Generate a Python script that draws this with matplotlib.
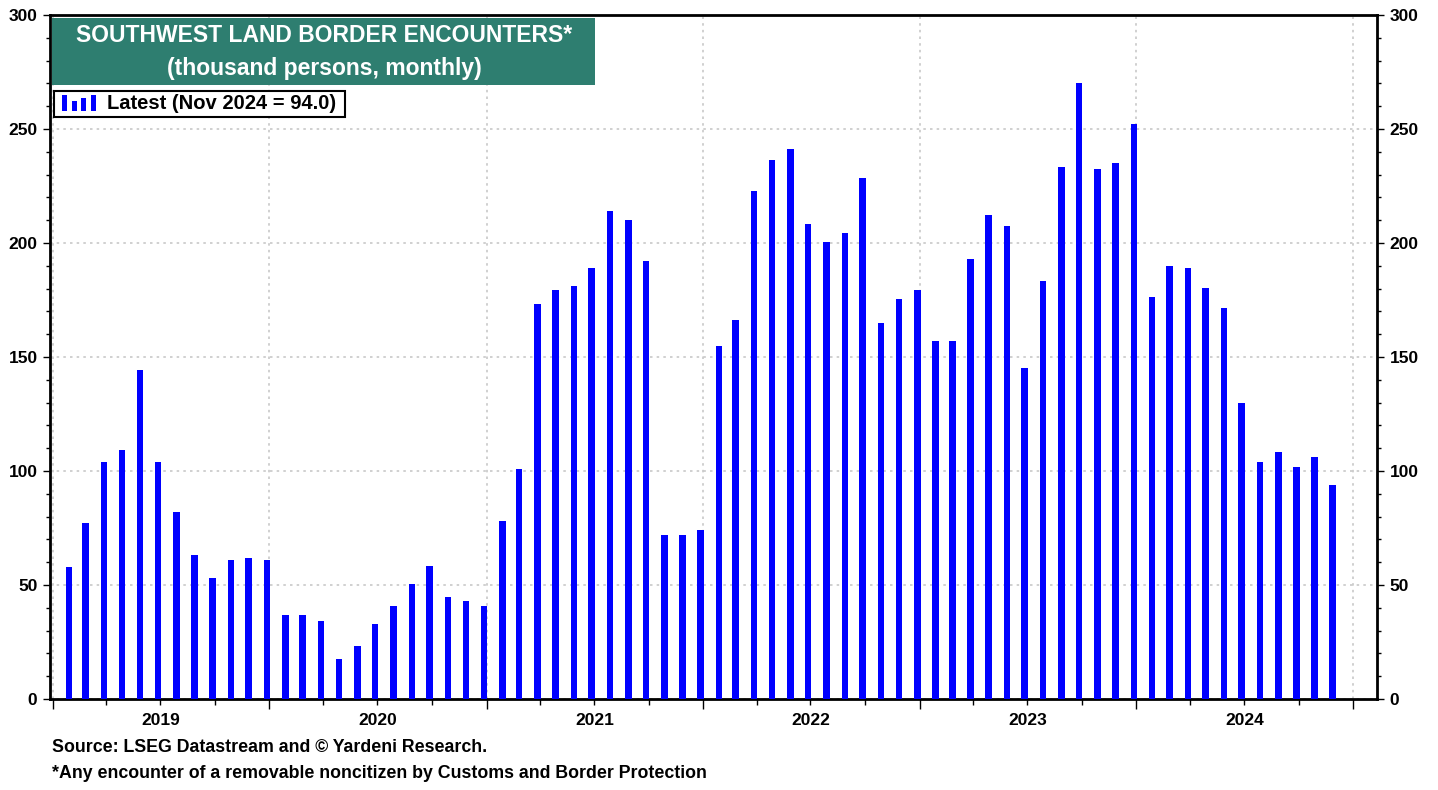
import numpy as np
import pandas as pd
import matplotlib
matplotlib.use("Agg")
import matplotlib.pyplot as plt
import matplotlib.dates as mdates
from matplotlib.ticker import MultipleLocator
from matplotlib.patches import Rectangle
import matplotlib.transforms as mtransforms

# monthly values (thousand persons)
vals_2019 = [58.0, 77.3, 103.8, 109.2, 144.3, 103.8, 82.2, 63.2, 53.2, 61.1, 62.0, 61.1]
vals_2020 = [37.0, 37.0, 34.1, 17.4, 23.2, 33.0, 40.9, 50.3, 58.2, 44.9, 42.8, 40.9]
vals_2021 = [78.1, 101.0, 173.2, 179.2, 181.1, 189.0, 214.2, 210.2, 192.1, 71.9, 72.1, 74.0]
vals_2022 = [155.0, 166.4, 222.9, 236.3, 241.2, 208.2, 200.3, 204.2, 228.4, 165.0, 175.3, 179.2]
vals_2023 = [157.0, 157.0, 193.0, 212.1, 207.3, 145.3, 183.2, 233.3, 270.3, 232.3, 235.2, 252.0]
vals_2024 = [176.3, 190.0, 189.0, 180.1, 171.4, 130.0, 103.8, 108.3, 101.9, 106.3, 94.0]

values = vals_2019 + vals_2020 + vals_2021 + vals_2022 + vals_2023 + vals_2024
dates = pd.date_range("2019-01-31", periods=len(values), freq="ME") - pd.Timedelta(days=3)
years = [2019, 2020, 2021, 2022, 2023, 2024]

title_lines = ["SOUTHWEST LAND BORDER ENCOUNTERS*", "(thousand persons, monthly)"]
legend_label = "Latest (Nov 2024 = 94.0)"
notes = ["Source: LSEG Datastream and \u00a9 Yardeni Research.",
         "*Any encounter of a removable noncitizen by Customs and Border Protection"]

plt.rcParams['font.family'] = ['Liberation Sans', 'DejaVu Sans']
plt.rcParams['font.weight'] = 'bold'

W, H = 1438, 790
fig = plt.figure(figsize=(W / 100, H / 100), dpi=100)
ax = fig.add_axes([50 / W, 1 - 699 / H, (1377 - 50) / W, (699 - 15) / H])

ax.bar(dates, values, width=11, color="#0000ff", zorder=3)

ax.set_ylim(0, 300)
ax.set_xlim(pd.Timestamp("2018-12-27"), pd.Timestamp("2025-02-10"))

ax.yaxis.set_major_locator(MultipleLocator(50))
ax.yaxis.set_minor_locator(MultipleLocator(10))
ax.xaxis.set_major_locator(mdates.YearLocator())
ax.xaxis.set_minor_locator(mdates.MonthLocator(bymonth=[4, 7, 10]))
ax.xaxis.set_major_formatter(plt.NullFormatter())

ax.tick_params(axis="y", which="both", left=True, right=True, labelleft=True, labelright=True,
               direction="out", labelsize=12.5, width=1)
ax.tick_params(axis="y", which="major", length=5, pad=4)
ax.tick_params(axis="y", which="minor", length=3)
ax.tick_params(axis="x", which="major", length=7, width=1)
ax.tick_params(axis="x", which="minor", length=4, width=1)
for lbl in ax.get_yticklabels():
    lbl.set_fontweight("bold")

ax.grid(True, which="major", axis="both", color="#c8c8c8", linestyle=(0, (1.5, 2.5)), linewidth=1.2, zorder=0)
for s in ax.spines.values():
    s.set_linewidth(2)

trans = mtransforms.blended_transform_factory(ax.transData, ax.transAxes)
for y in years:
    ax.text(pd.Timestamp(f"{y}-07-02"), -0.02, str(y), transform=trans, ha="center", va="top",
            fontsize=12.5, fontweight="bold")

# title box
fig.patches.append(Rectangle((52 / W, 1 - 85 / H), (595 - 52) / W, (85 - 18) / H,
                             transform=fig.transFigure, facecolor="#2e7e70", edgecolor="none", zorder=5))
fig.text(324 / W, 1 - 36 / H, title_lines[0], ha="center", va="center", color="white",
         fontsize=16.5, fontweight="bold", zorder=6)
fig.text(324 / W, 1 - 68 / H, title_lines[1], ha="center", va="center", color="white",
         fontsize=16.5, fontweight="bold", zorder=6)

# legend box
fig.patches.append(Rectangle((54 / W, 1 - 117 / H), (345 - 54) / W, (117 - 91) / H,
                             transform=fig.transFigure, facecolor="white", edgecolor="black",
                             linewidth=1.5, zorder=5))
icon_h = [16, 10, 13, 16]
for i, h in enumerate(icon_h):
    fig.patches.append(Rectangle(((62 + i * 9.5) / W, 1 - 111 / H), 5 / W, h / H,
                                 transform=fig.transFigure, facecolor="#0000ff", edgecolor="none", zorder=6))
fig.text(107 / W, 1 - 103.5 / H, legend_label, ha="left", va="center", fontsize=14.5,
         fontweight="bold", zorder=6)

fig.text(52 / W, 1 - 748 / H, notes[0], ha="left", va="center", fontsize=12.8, fontweight="bold")
fig.text(52 / W, 1 - 773 / H, notes[1], ha="left", va="center", fontsize=12.8, fontweight="bold")

fig.savefig("out.png", dpi=100)
